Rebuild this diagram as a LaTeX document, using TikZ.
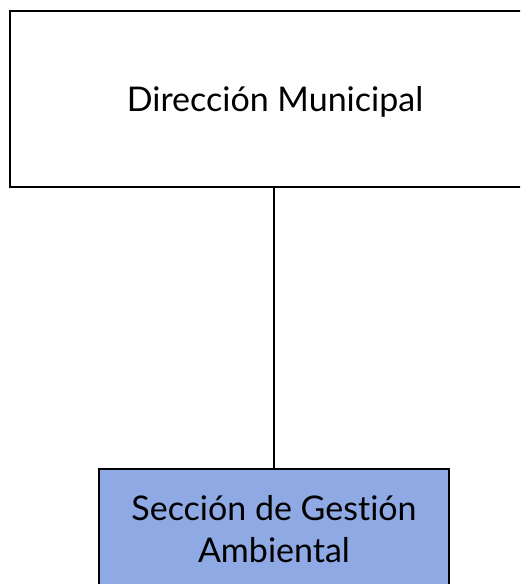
\documentclass[tikz,border=0pt]{standalone}
\usepackage{fontspec}
\setmainfont{Lato}[Ligatures=NoCommon]
\definecolor{boxblue}{HTML}{8EA9E3}
\begin{document}
\begin{tikzpicture}[x=1pt,y=1pt,
  orgbox/.style={draw=black,line width=1.8pt,rectangle,inner sep=0pt,align=center},
  big/.style={font=\fontsize{34}{42}\selectfont},
  link/.style={draw=black,line width=1.8pt}]
\useasboundingbox (0,0) rectangle (520,-584);
\clip (0,0) rectangle (520,-584);
\node[orgbox,minimum width=530,minimum height=176] (dir) at (275,-99) {};
\node[big,anchor=base,inner sep=0pt] (dirtext) at (275,-111) {Dirección Municipal};
\node[orgbox,fill=boxblue,minimum width=350,minimum height=150,anchor=north] (sec) at (274,-468) {};
\node[big,align=center,anchor=base,inner sep=0pt] (sectext) at (274,-562) {Sección de Gestión\\Ambiental};
\draw[link] (dir.south -| sec.north) -- (sec.north);
\end{tikzpicture}
\end{document}
